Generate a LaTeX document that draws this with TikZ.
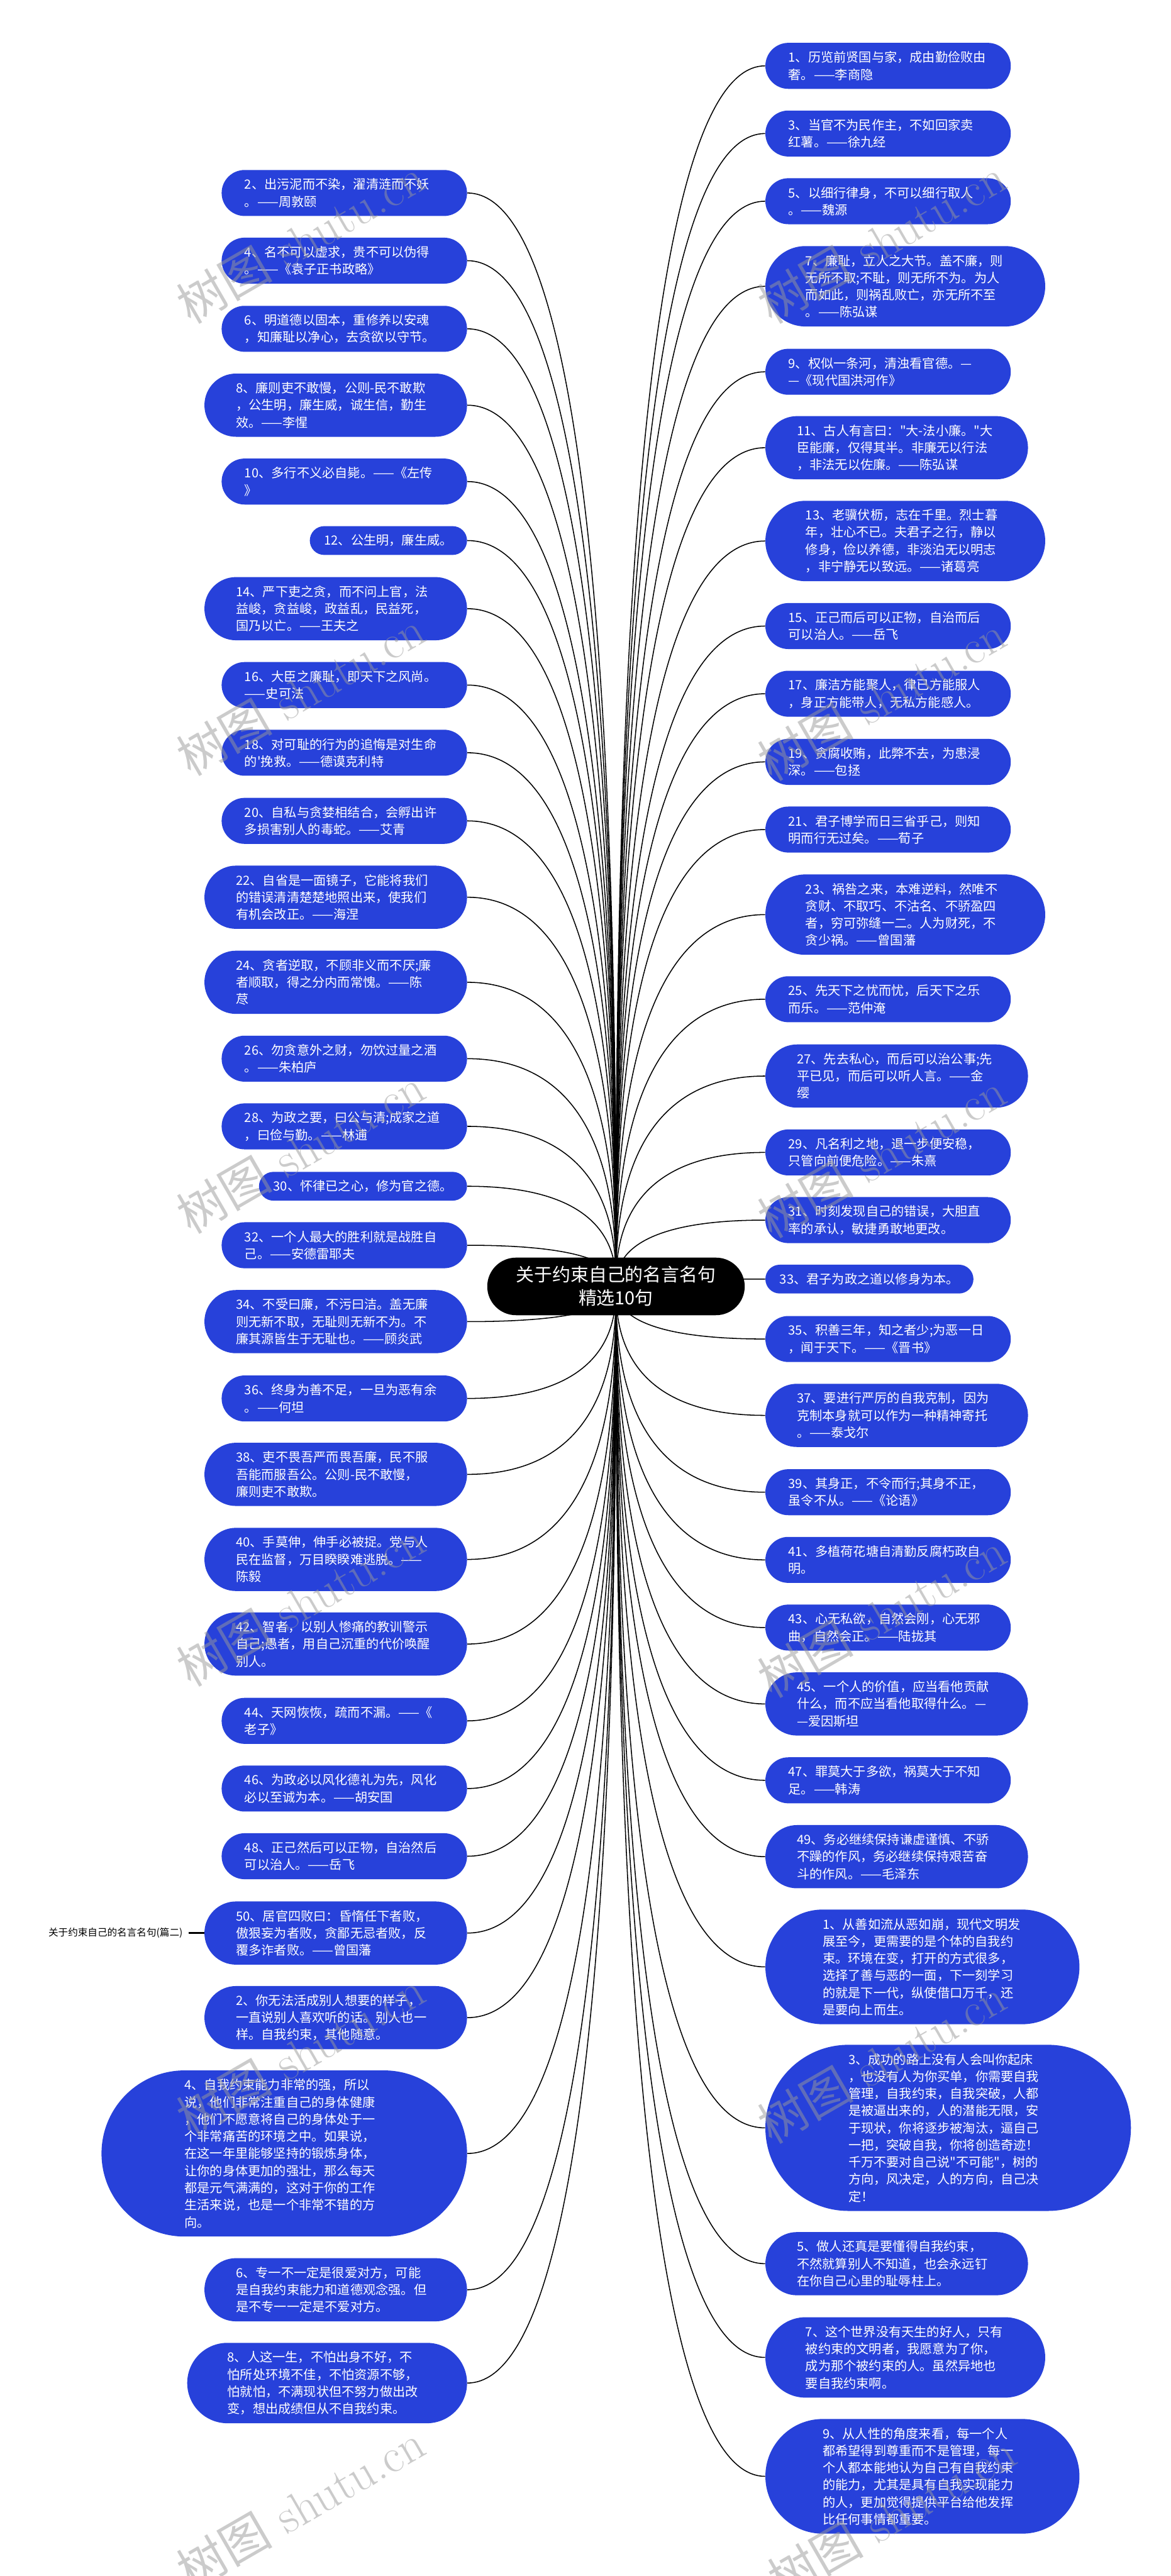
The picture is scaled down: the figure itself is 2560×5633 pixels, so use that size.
\documentclass[tikz,border=0pt]{standalone}
\usepackage{fontspec}
\newfontfamily\cjkfont{Noto Sans CJK SC}
\usetikzlibrary{backgrounds,calc}
\definecolor{quoteblue}{RGB}{39,65,218}
\newcommand\quotefont{\cjkfont\fontsize{7.9pt}{10.67pt}\selectfont}
\newcommand\rootfont{\cjkfont\fontsize{11.3pt}{14.5pt}\selectfont}

\begin{document}
\begin{tikzpicture}[x=0.01cm, y=-0.01cm,
    quote/.style={rectangle, fill=quoteblue, text=white, inner ysep=0pt, align=left, font=\quotefont},
    q1/.style={quote, minimum height=17.9pt, inner xsep=8.95pt, rounded corners=8.95pt},
    q2/.style={quote, text width=124pt, minimum height=28.6pt, inner xsep=14.3pt, rounded corners=14.3pt},
    q3/.style={quote, text width=124pt, minimum height=39.3pt, inner xsep=19.65pt, rounded corners=19.65pt},
    q4/.style={quote, text width=124pt, minimum height=50pt, inner xsep=25pt, rounded corners=25pt},
    q6/.style={quote, text width=124pt, minimum height=71.3pt, inner xsep=35.65pt, rounded corners=35.65pt},
    q9/.style={quote, text width=124pt, minimum height=103.3pt, inner xsep=51.65pt, rounded corners=51.65pt},
    lq/.style={anchor=east},
    rq/.style={anchor=west},
    link/.style={draw=black, line width=0.6pt,
        to path={.. controls ($(\tikztostart)!0.25!(\tikztostart |- \tikztotarget)$) and (\tikztostart |- \tikztotarget) .. (\tikztotarget)}},
    watermark/.style={text=black!40, opacity=0.5, rotate=30, inner sep=0pt, font=\fontsize{30pt}{30pt}\selectfont}]

    \useasboundingbox (0,0) rectangle (2560,5633);

    % 中心主题
    \node[rectangle, rounded corners=17.9pt, fill=black, text=white, inner xsep=17.9pt, minimum height=35.8pt, align=center, font=\rootfont] (root) at (1347,2813) {关于约束自己的名言名句\\精选10句};

    % 左侧名言
    \node[q2, lq] (l2) at (1022,422) {2、出污泥而不染，濯清涟而不妖\\。——周敦颐};
    \node[q2, lq] (l4) at (1022,570) {4、名不可以虚求，贵不可以伪得\\。——《袁子正书政略》};
    \node[q2, lq] (l6) at (1022,719) {6、明道德以固本，重修养以安魂\\，知廉耻以净心，去贪欲以守节。};
    \node[q3, lq] (l8) at (1022,886) {8、廉则吏不敢慢，公则-民不敢欺\\，公生明，廉生威，诚生信，勤生\\效。——李惺};
    \node[q2, lq] (l10) at (1022,1053) {10、多行不义必自毙。——《左传\\》};
    \node[q1, lq] (l12) at (1022,1182) {12、公生明，廉生威。};
    \node[q3, lq] (l14) at (1022,1331) {14、严下吏之贪，而不问上官，法\\益峻，贪益峻，政益乱，民益死，\\国乃以亡。——王夫之};
    \node[q2, lq] (l16) at (1022,1498) {16、大臣之廉耻，即天下之风尚。\\——史可法};
    \node[q2, lq] (l18) at (1022,1646) {18、对可耻的行为的追悔是对生命\\的'挽救。——德谟克利特};
    \node[q2, lq] (l20) at (1022,1795) {20、自私与贪婪相结合，会孵出许\\多损害别人的毒蛇。——艾青};
    \node[q3, lq] (l22) at (1022,1962) {22、自省是一面镜子，它能将我们\\的错误清清楚楚地照出来，使我们\\有机会改正。——海涅};
    \node[q3, lq] (l24) at (1022,2148) {24、贪者逆取，不顾非义而不厌;廉\\者顺取，得之分内而常愧。——陈\\荩};
    \node[q2, lq] (l26) at (1022,2315) {26、勿贪意外之财，勿饮过量之酒\\。——朱柏庐};
    \node[q2, lq] (l28) at (1022,2463) {28、为政之要，曰公与清;成家之道\\，曰俭与勤。——林逋};
    \node[q1, lq] (l30) at (1022,2594) {30、怀律已之心，修为官之德。};
    \node[q2, lq] (l32) at (1022,2723) {32、一个人最大的胜利就是战胜自\\己。——安德雷耶夫};
    \node[q3, lq] (l34) at (1022,2890) {34、不受曰廉，不污曰洁。盖无廉\\则无新不取，无耻则无新不为。不\\廉其源皆生于无耻也。——顾炎武};
    \node[q2, lq] (l36) at (1022,3058) {36、终身为善不足，一旦为恶有余\\。——何坦};
    \node[q3, lq] (l38) at (1022,3224) {38、吏不畏吾严而畏吾廉，民不服\\吾能而服吾公。公则-民不敢慢，\\廉则吏不敢欺。};
    \node[q3, lq] (l40) at (1022,3410) {40、手莫伸，伸手必被捉。党与人\\民在监督，万目睽睽难逃脱。——\\陈毅};
    \node[q3, lq] (l42) at (1022,3595) {42、智者，以别人惨痛的教训警示\\自己;愚者，用自己沉重的代价唤醒\\别人。};
    \node[q2, lq] (l44) at (1022,3763) {44、天网恢恢，疏而不漏。——《\\老子》};
    \node[q2, lq] (l46) at (1022,3911) {46、为政必以风化德礼为先，风化\\必以至诚为本。——胡安国};
    \node[q2, lq] (l48) at (1022,4059) {48、正己然后可以正物，自治然后\\可以治人。——岳飞};
    \node[q3, lq] (l50) at (1022,4227) {50、居官四败曰：昏惰任下者败，\\傲狠妄为者败，贪鄙无忌者败，反\\覆多诈者败。——曾国藩};
    \node[q3, lq] (b2) at (1022,4412) {2、你无法活成别人想要的样子，\\一直说别人喜欢听的话。别人也一\\样。自我约束，其他随意。};
    \node[q9, lq] (b4) at (1022,4709) {4、自我约束能力非常的强，所以\\说，他们非常注重自己的身体健康\\，他们不愿意将自己的身体处于一\\个非常痛苦的环境之中。如果说，\\在这一年里能够坚持的锻炼身体，\\让你的身体更加的强壮，那么每天\\都是元气满满的，这对于你的工作\\生活来说，也是一个非常不错的方\\向。};
    \node[q3, lq] (b6) at (1022,5007) {6、专一不一定是很爱对方，可能\\是自我约束能力和道德观念强。但\\是不专一一定是不爱对方。};
    \node[q4, lq] (b8) at (1022,5211) {8、人这一生，不怕出身不好，不\\怕所处环境不佳，不怕资源不够，\\怕就怕，不满现状但不努力做出改\\变，想出成绩但从不自我约束。};

    % 篇二标题
    \node[anchor=east, inner xsep=3.4pt, inner ysep=0pt, font=\cjkfont\fontsize{6.1pt}{7pt}\selectfont] (part2) at (412,4227) {关于约束自己的名言名句(篇二)};

    % 右侧名言
    \node[q2, rq] (r1) at (1673,144) {1、历览前贤国与家，成由勤俭败由\\奢。——李商隐};
    \node[q2, rq] (r3) at (1673,292) {3、当官不为民作主，不如回家卖\\红薯。——徐九经};
    \node[q2, rq] (r5) at (1673,440) {5、以细行律身，不可以细行取人\\。——魏源};
    \node[q4, rq] (r7) at (1673,626) {7、廉耻，立人之大节。盖不廉，则\\无所不取;不耻，则无所不为。为人\\而如此，则祸乱败亡，亦无所不至\\。——陈弘谋};
    \node[q2, rq] (r9) at (1673,813) {9、权似一条河，清浊看官德。—\\—《现代国洪河作》};
    \node[q3, rq] (r11) at (1673,979) {11、古人有言曰："大-法小廉。"大\\臣能廉，仅得其半。非廉无以行法\\，非法无以佐廉。——陈弘谋};
    \node[q4, rq] (r13) at (1673,1183) {13、老骥伏枥，志在千里。烈士暮\\年，壮心不已。夫君子之行，静以\\修身，俭以养德，非淡泊无以明志\\，非宁静无以致远。——诸葛亮};
    \node[q2, rq] (r15) at (1673,1369) {15、正己而后可以正物，自治而后\\可以治人。——岳飞};
    \node[q2, rq] (r17) at (1673,1517) {17、廉洁方能聚人，律已方能服人\\，身正方能带人，无私方能感人。};
    \node[q2, rq] (r19) at (1673,1666) {19、贪腐收贿，此弊不去，为患浸\\深。——包拯};
    \node[q2, rq] (r21) at (1673,1814) {21、君子博学而日三省乎己，则知\\明而行无过矣。——荀子};
    \node[q4, rq] (r23) at (1673,2000) {23、祸咎之来，本难逆料，然唯不\\贪财、不取巧、不沽名、不骄盈四\\者，穷可弥缝一二。人为财死，不\\贪少祸。——曾国藩};
    \node[q2, rq] (r25) at (1673,2185) {25、先天下之忧而忧，后天下之乐\\而乐。——范仲淹};
    \node[q3, rq] (r27) at (1673,2353) {27、先去私心，而后可以治公事;先\\平已见，而后可以听人言。——金\\缨};
    \node[q2, rq] (r29) at (1673,2520) {29、凡名利之地，退一步便安稳，\\只管向前便危险。——朱熹};
    \node[q2, rq] (r31) at (1673,2668) {31、时刻发现自己的错误，大胆直\\率的承认，敏捷勇敢地更改。};
    \node[q1, rq] (r33) at (1673,2797) {33、君子为政之道以修身为本。};
    \node[q2, rq] (r35) at (1673,2928) {35、积善三年，知之者少;为恶一日\\，闻于天下。——《晋书》};
    \node[q3, rq] (r37) at (1673,3095) {37、要进行严厉的自我克制，因为\\克制本身就可以作为一种精神寄托\\。——泰戈尔};
    \node[q2, rq] (r39) at (1673,3263) {39、其身正，不令而行;其身不正，\\虽令不从。——《论语》};
    \node[q2, rq] (r41) at (1673,3411) {41、多植荷花塘自清勤反腐朽政自\\明。};
    \node[q2, rq] (r43) at (1673,3559) {43、心无私欲，自然会刚，心无邪\\曲，自然会正。——陆拢其};
    \node[q3, rq] (r45) at (1673,3726) {45、一个人的价值，应当看他贡献\\什么，而不应当看他取得什么。—\\—爱因斯坦};
    \node[q2, rq] (r47) at (1673,3893) {47、罪莫大于多欲，祸莫大于不知\\足。——韩涛};
    \node[q3, rq] (r49) at (1673,4060) {49、务必继续保持谦虚谨慎、不骄\\不躁的作风，务必继续保持艰苦奋\\斗的作风。——毛泽东};
    \node[q6, rq] (s1) at (1673,4301) {1、从善如流从恶如崩，现代文明发\\展至今，更需要的是个体的自我约\\束。环境在变，打开的方式很多，\\选择了善与恶的一面，下一刻学习\\的就是下一代，纵使借口万千，还\\是要向上而生。};
    \node[q9, rq] (s3) at (1673,4653) {3、成功的路上没有人会叫你起床\\，也没有人为你买单，你需要自我\\管理，自我约束，自我突破，人都\\是被逼出来的，人的潜能无限，安\\于现状，你将逐步被淘汰，逼自己\\一把，突破自我，你将创造奇迹！\\千万不要对自己说"不可能"，树的\\方向，风决定，人的方向，自己决\\定！};
    \node[q3, rq] (s5) at (1673,4950) {5、做人还真是要懂得自我约束，\\不然就算别人不知道，也会永远钉\\在你自己心里的耻辱柱上。};
    \node[q4, rq] (s7) at (1673,5155) {7、这个世界没有天生的好人，只有\\被约束的文明者，我愿意为了你，\\成为那个被约束的人。虽然异地也\\要自我约束啊。};
    \node[q6, rq] (s9) at (1673,5415) {9、从人性的角度来看，每一个人\\都希望得到尊重而不是管理，每一\\个人都本能地认为自己有自我约束\\的能力，尤其是具有自我实现能力\\的人，更加觉得提供平台给他发挥\\比任何事情都重要。};

    % 连线
    \begin{pgfonlayer}{background}
    \fill[white] (0,0) rectangle (2560,5633);
    \draw[link] (root.center) to (l2.east);
    \draw[link] (root.center) to (l4.east);
    \draw[link] (root.center) to (l6.east);
    \draw[link] (root.center) to (l8.east);
    \draw[link] (root.center) to (l10.east);
    \draw[link] (root.center) to (l12.east);
    \draw[link] (root.center) to (l14.east);
    \draw[link] (root.center) to (l16.east);
    \draw[link] (root.center) to (l18.east);
    \draw[link] (root.center) to (l20.east);
    \draw[link] (root.center) to (l22.east);
    \draw[link] (root.center) to (l24.east);
    \draw[link] (root.center) to (l26.east);
    \draw[link] (root.center) to (l28.east);
    \draw[link] (root.center) to (l30.east);
    \draw[link] (root.center) to (l32.east);
    \draw[link] (root.center) to (l34.east);
    \draw[link] (root.center) to (l36.east);
    \draw[link] (root.center) to (l38.east);
    \draw[link] (root.center) to (l40.east);
    \draw[link] (root.center) to (l42.east);
    \draw[link] (root.center) to (l44.east);
    \draw[link] (root.center) to (l46.east);
    \draw[link] (root.center) to (l48.east);
    \draw[link] (root.center) to (l50.east);
    \draw[link] (root.center) to (b2.east);
    \draw[link] (root.center) to (b4.east);
    \draw[link] (root.center) to (b6.east);
    \draw[link] (root.center) to (b8.east);
    \draw[line width=1.2pt] (part2.east) -- (l50.west);
    \draw[link] (root.center) to (r1.west);
    \draw[link] (root.center) to (r3.west);
    \draw[link] (root.center) to (r5.west);
    \draw[link] (root.center) to (r7.west);
    \draw[link] (root.center) to (r9.west);
    \draw[link] (root.center) to (r11.west);
    \draw[link] (root.center) to (r13.west);
    \draw[link] (root.center) to (r15.west);
    \draw[link] (root.center) to (r17.west);
    \draw[link] (root.center) to (r19.west);
    \draw[link] (root.center) to (r21.west);
    \draw[link] (root.center) to (r23.west);
    \draw[link] (root.center) to (r25.west);
    \draw[link] (root.center) to (r27.west);
    \draw[link] (root.center) to (r29.west);
    \draw[link] (root.center) to (r31.west);
    \draw[link] (root.center) to (r33.west);
    \draw[link] (root.center) to (r35.west);
    \draw[link] (root.center) to (r37.west);
    \draw[link] (root.center) to (r39.west);
    \draw[link] (root.center) to (r41.west);
    \draw[link] (root.center) to (r43.west);
    \draw[link] (root.center) to (r45.west);
    \draw[link] (root.center) to (r47.west);
    \draw[link] (root.center) to (r49.west);
    \draw[link] (root.center) to (s1.west);
    \draw[link] (root.center) to (s3.west);
    \draw[link] (root.center) to (s5.west);
    \draw[link] (root.center) to (s7.west);
    \draw[link] (root.center) to (s9.west);
    \end{pgfonlayer}

    % 水印
    \node[watermark] (wm1) at (657,525) {{\cjkfont 树图} shutu.cn};
    \node[watermark] (wm2) at (1928,525) {{\cjkfont 树图} shutu.cn};
    \node[watermark] (wm3) at (657,1515) {{\cjkfont 树图} shutu.cn};
    \node[watermark] (wm4) at (1928,1525) {{\cjkfont 树图} shutu.cn};
    \node[watermark] (wm5) at (657,2515) {{\cjkfont 树图} shutu.cn};
    \node[watermark] (wm6) at (1928,2525) {{\cjkfont 树图} shutu.cn};
    \node[watermark] (wm7) at (657,3505) {{\cjkfont 树图} shutu.cn};
    \node[watermark] (wm8) at (1928,3530) {{\cjkfont 树图} shutu.cn};
    \node[watermark] (wm9) at (657,4490) {{\cjkfont 树图} shutu.cn};
    \node[watermark] (wm10) at (1928,4505) {{\cjkfont 树图} shutu.cn};
    \node[watermark] (wm11) at (657,5480) {{\cjkfont 树图} shutu.cn};
    \node[watermark] (wm12) at (1950,5500) {{\cjkfont 树图} shutu.cn};

\end{tikzpicture}
\end{document}
